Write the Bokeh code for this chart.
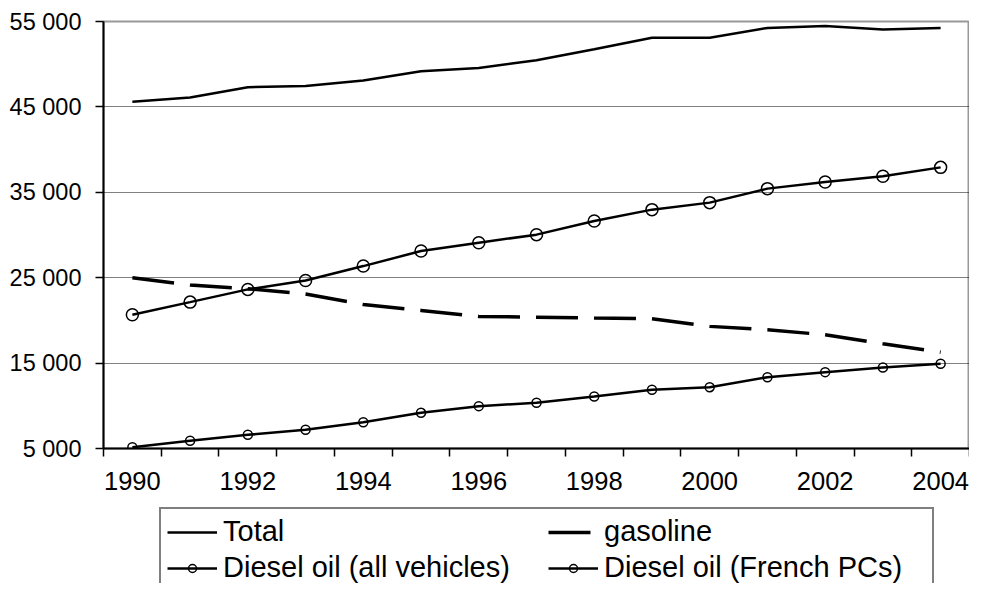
from bokeh.plotting import figure
from bokeh.layouts import column
from bokeh.models import FixedTicker, Legend, LegendItem, Range1d
from bokeh.embed import file_html
from bokeh.resources import INLINE

# ---- data ----
years = list(range(1990, 2005))
total = [45600, 46100, 47300, 47450, 48100, 49170, 49560, 50460, 51750, 53100,
         53100, 54250, 54480, 54050, 54250]
gasoline = [25000, 24150, 23700, 23100, 21870, 21170, 20470, 20380, 20270, 20200,
            19300, 18900, 18320, 17270, 16280]
diesel_all = [20660, 22140, 23630, 24680, 26360, 28120, 29100, 30040, 31640, 32970,
              33790, 35430, 36200, 36870, 37920]
diesel_pc = [5150, 5900, 6600, 7190, 8080, 9180, 9960, 10350, 11090, 11870,
             12180, 13350, 13940, 14490, 14920]
y_ticks = [5000, 15000, 25000, 35000, 45000, 55000]
y_tick_labels = ["5 000", "15 000", "25 000", "35 000", "45 000", "55 000"]
x_label_years = [1990, 1992, 1994, 1996, 1998, 2000, 2002, 2004]
series_labels = ["Total", "gasoline", "Diesel oil (all vehicles)", "Diesel oil (French PCs)"]

FONT = "Liberation Sans"

# styles per series
STY_TOTAL = dict(line_color="black", line_width=2.5)
STY_GAS = dict(line_color="black", line_width=3.5, line_dash="42 16")
STY_LINE = dict(line_color="black", line_width=2.5)
STY_DA_M = dict(marker="circle", size=12, fill_color=None, line_color="black", line_width=1.5)
STY_PC_M = dict(marker="circle", size=9, fill_color=None, line_color="black", line_width=1.5)

p = figure(width=969, height=500, output_backend="svg", toolbar_location=None,
           x_range=Range1d(1989.5, 2004.5), y_range=Range1d(5000, 55000),
           min_border_left=103, min_border_right=0, min_border_top=21,
           min_border_bottom=52)
p.background_fill_color = "white"
p.border_fill_color = "white"
p.outline_line_color = "#999999"
p.outline_line_width = 2

# grid
p.xgrid.visible = False
p.ygrid.ticker = FixedTicker(ticks=y_ticks)
p.ygrid.grid_line_color = "black"
p.ygrid.grid_line_dash = "1 1"
p.ygrid.grid_line_width = 1

# x axis: ticks between categories (minor), labels every other year
xa = p.xaxis[0]
xa.ticker = FixedTicker(ticks=x_label_years,
                        minor_ticks=[y - 0.5 for y in years] + [years[-1] + 0.5])
xa.major_tick_line_color = None
xa.major_tick_out = 8
xa.major_tick_in = 0
xa.minor_tick_line_color = "black"
xa.minor_tick_line_width = 1.5
xa.minor_tick_out = 8
xa.minor_tick_in = 0
xa.axis_line_color = "black"
xa.axis_line_width = 2
xa.major_label_text_font = FONT
xa.major_label_text_font_size = "25.5px"
xa.major_label_text_color = "black"
xa.major_label_standoff = 15

ya = p.yaxis[0]
ya.ticker = FixedTicker(ticks=y_ticks, minor_ticks=[])
ya.major_label_overrides = {t: l for t, l in zip(y_ticks, y_tick_labels)}
ya.major_tick_line_color = "black"
ya.major_tick_line_width = 1.5
ya.major_tick_out = 8
ya.major_tick_in = 0
ya.minor_tick_line_color = None
ya.axis_line_color = "black"
ya.axis_line_width = 2
ya.major_label_text_font = FONT
ya.major_label_text_font_size = "23.5px"
ya.major_label_text_color = "black"
ya.major_label_standoff = 14

# series
p.line(years, total, **STY_TOTAL)
p.line(years, gasoline, **STY_GAS)
p.line(years, diesel_all, **STY_LINE)
p.scatter(years, diesel_all, **STY_DA_M)
p.line(years, diesel_pc, **STY_LINE)
p.scatter(years, diesel_pc, **STY_PC_M)

# legend strip below the chart: its key renderers carry the same series
# (their data lie outside this strip's ranges, so only the legend shows)
lg = figure(width=969, height=83, output_backend="svg", toolbar_location=None,
            x_range=Range1d(0, 1), y_range=Range1d(0, 1),
            x_axis_location=None, y_axis_location=None,
            min_border=0, min_border_left=0, min_border_right=0,
            min_border_top=0, min_border_bottom=0)
lg.outline_line_color = None
lg.grid.visible = False
lg.background_fill_color = "white"
lg.border_fill_color = "white"
k_total = lg.line(years, total, **STY_TOTAL)
k_gas = lg.line(years, gasoline, **STY_GAS)
k_da_l = lg.line(years, diesel_all, **STY_LINE)
k_da_m = lg.scatter(years, diesel_all, **STY_DA_M)
k_pc_l = lg.line(years, diesel_pc, **STY_LINE)
k_pc_m = lg.scatter(years, diesel_pc, **STY_PC_M)

legend = Legend(items=[
    LegendItem(label=series_labels[0], renderers=[k_total]),
    LegendItem(label=series_labels[1], renderers=[k_gas]),
    LegendItem(label=series_labels[2], renderers=[k_da_l, k_da_m]),
    LegendItem(label=series_labels[3], renderers=[k_pc_l, k_pc_m]),
], location=(56, -9), orientation="horizontal", ncols=2)
legend.label_text_font = FONT
legend.label_text_font_size = "29px"
legend.label_text_color = "black"
legend.glyph_width = 50
legend.glyph_height = 20
legend.label_standoff = 6
legend.label_width = 322
legend.padding = 6
legend.spacing = 3
legend.margin = 0
legend.border_line_color = "black"
legend.border_line_width = 2
legend.background_fill_color = "white"
legend.background_fill_alpha = 1
lg.add_layout(legend)

open("out.html", "w").write(file_html(column(p, lg), INLINE))
